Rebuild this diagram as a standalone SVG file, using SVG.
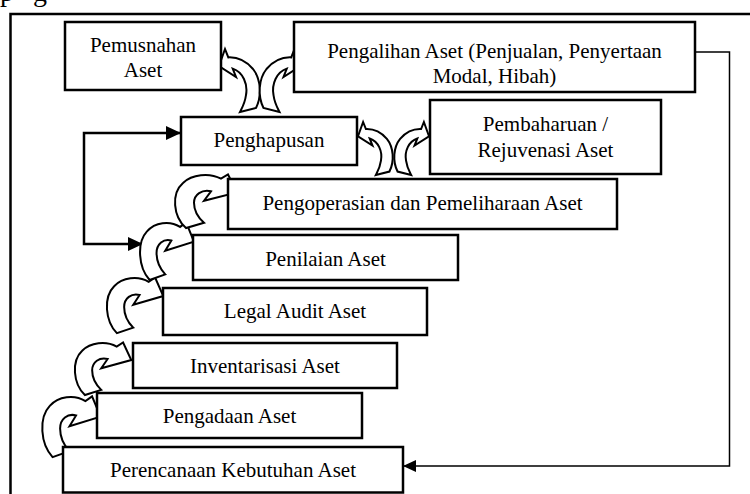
<svg xmlns="http://www.w3.org/2000/svg" width="750" height="494" viewBox="0 0 750 494">
  <defs>
    <style>
      .box{fill:#fff;stroke:#000;stroke-width:2.5}
      .lbl{font-family:"Liberation Serif","Times New Roman",serif;font-size:21px;fill:#000;text-anchor:middle}
      .carrow{fill:#fff;stroke:#000;stroke-width:2;stroke-linejoin:miter;vector-effect:non-scaling-stroke}
      .link{fill:none;stroke:#000}
    </style>
    <!-- block arrow that climbs one step: bulges left, head points right into the upper box -->
    <path id="stepArrow" class="carrow" d="M -43,51 C -56,40 -58,18 -46,8 C -37,0 -20,-2 -8,4 L -1,0 L 8,17 L -25,25 L -18,16 C -27,14 -35,19 -35,27 C -35,35 -31,41 -25,46 Z"/>
    <!-- block arrow rising from below, bulging right, head pointing left -->
    <path id="sideArrow" class="carrow" d="M 21,63 L 37,59 C 43,47 42,30 34,20 C 27,12 18,8 9.3,8.4 L 6,0 L 0,17 L 17,28 L 13.7,19.6 C 24,23 29,35 27,46 C 26,54 23,59 21,63 Z"/>
    <marker id="headBold" markerUnits="userSpaceOnUse" markerWidth="15" markerHeight="14" refX="15" refY="7" orient="auto-start-reverse">
      <path d="M0,0 L15,7 L0,14 Z" fill="#000"/>
    </marker>
    <marker id="headThin" markerUnits="userSpaceOnUse" markerWidth="13" markerHeight="12" refX="13" refY="6" orient="auto">
      <path d="M0,0 L13,6 L0,12 Z" fill="#000"/>
    </marker>
  </defs>

  <rect width="750" height="494" fill="#fff"/>

  <!-- descenders of the running text above the figure -->
  <text font-family="'Liberation Serif','Times New Roman',serif" font-size="28" fill="#000" y="1"><tspan x="0">p</tspan><tspan x="33">g</tspan></text>

  <!-- outer frame -->
  <path d="M10.5,494 V14 H750" fill="none" stroke="#000" stroke-width="2.5"/>

  <g id="connectors">
    <path class="link" stroke-width="1.5" d="M695,52 H729.5 V466 H403" marker-end="url(#headThin)"/>
    <path class="link" stroke-width="2.5" d="M143,244 H84 V133 H181" marker-start="url(#headBold)" marker-end="url(#headBold)"/>

    <!-- staircase of cycle arrows -->
    <use href="#stepArrow" transform="translate(93,396.4) scale(0.94,1.19)"/>
    <use href="#stepArrow" transform="translate(124,342.5) scale(0.91,1.03)"/>
    <use href="#stepArrow" transform="translate(156,277.5) scale(0.91,1.09)"/>
    <use href="#stepArrow" transform="translate(187,222.4) scale(0.87,1.13)"/>
    <use href="#stepArrow" transform="translate(229,174.5) scale(1,1.05)"/>

    <!-- branching arrows out of Penghapusan -->
    <use href="#sideArrow" transform="translate(219,49)"/>
    <use href="#sideArrow" transform="translate(300.5,49) scale(-1,1)"/>
    <use href="#sideArrow" transform="translate(358,122) scale(0.85,0.84)"/>
    <use href="#sideArrow" transform="translate(429,122) scale(-0.85,0.84)"/>
  </g>

  <g id="pemusnahan">
    <rect class="box" x="65" y="22" width="156" height="68"/>
    <text class="lbl" x="143" y="52">Pemusnahan</text>
    <text class="lbl" x="143" y="77">Aset</text>
  </g>
  <g id="pengalihan">
    <rect class="box" x="294" y="22" width="401" height="70"/>
    <text class="lbl" x="494.5" y="58">Pengalihan Aset (Penjualan, Penyertaan</text>
    <text class="lbl" x="494.5" y="83">Modal, Hibah)</text>
  </g>
  <g id="penghapusan">
    <rect class="box" x="181" y="117" width="176" height="48"/>
    <text class="lbl" x="269" y="147">Penghapusan</text>
  </g>
  <g id="pembaharuan">
    <rect class="box" x="430" y="100" width="231" height="74"/>
    <text class="lbl" x="545.5" y="131">Pembaharuan /</text>
    <text class="lbl" x="545.5" y="157">Rejuvenasi Aset</text>
  </g>
  <g id="pengoperasian">
    <rect class="box" x="228" y="179" width="389" height="50"/>
    <text class="lbl" x="422.5" y="210">Pengoperasian dan Pemeliharaan Aset</text>
  </g>
  <g id="penilaian">
    <rect class="box" x="193" y="235" width="265" height="45"/>
    <text class="lbl" x="325.5" y="266">Penilaian Aset</text>
  </g>
  <g id="legal-audit">
    <rect class="box" x="163" y="288" width="264" height="47"/>
    <text class="lbl" x="295" y="318">Legal Audit Aset</text>
  </g>
  <g id="inventarisasi">
    <rect class="box" x="133" y="343" width="264" height="45"/>
    <text class="lbl" x="265" y="373">Inventarisasi Aset</text>
  </g>
  <g id="pengadaan">
    <rect class="box" x="97" y="393" width="265" height="45"/>
    <text class="lbl" x="229.5" y="423">Pengadaan Aset</text>
  </g>
  <g id="perencanaan">
    <rect class="box" x="63" y="447" width="340" height="45.5"/>
    <text class="lbl" x="233" y="477">Perencanaan Kebutuhan Aset</text>
  </g>
</svg>
